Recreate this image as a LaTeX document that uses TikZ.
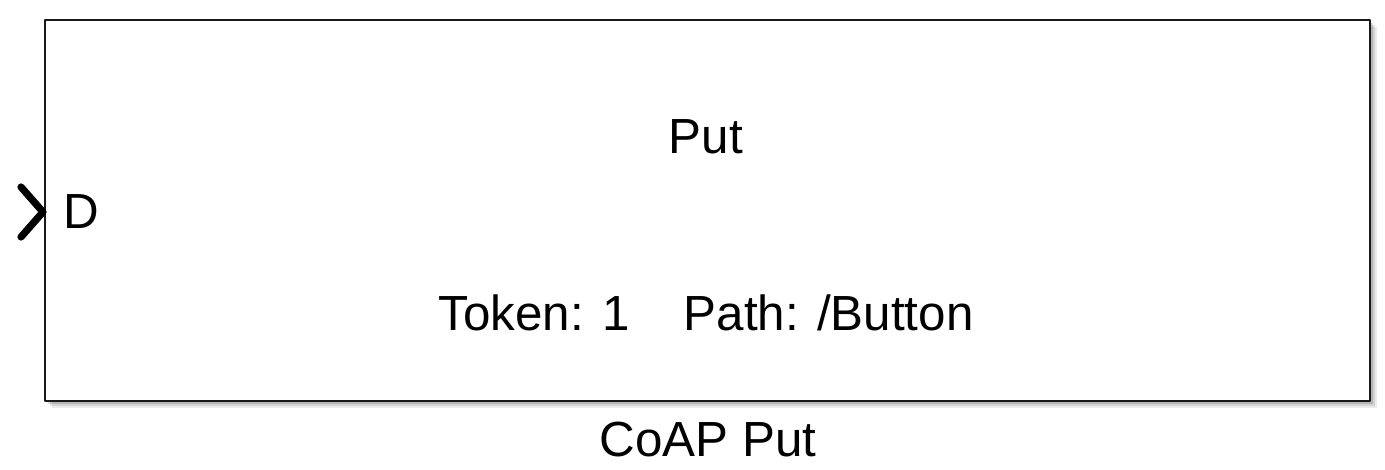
\documentclass[tikz,border=0pt]{standalone}
\usepackage{fontspec}
\setmainfont{Liberation Sans}
\usetikzlibrary{positioning}
\tikzset{
  every picture/.style={line cap=round, line join=round},
  blocktxt/.style={font=\fontsize{37}{44}\selectfont, text=black, inner sep=0pt},
  blockframe/.style={draw=black!90, line width=2.2pt, fill=white},
  portmark/.style={black, line width=5.4pt},
}
\begin{document}
\begin{tikzpicture}[x=0.75pt, y=-0.75pt]
\useasboundingbox (0,0) rectangle (1385,470);
% soft shadow
\foreach \o/\a in {7/0.08, 5/0.10, 3/0.14}
  \fill[black, opacity=\a] (45+\o,20+\o) rectangle (1370+\o,401+\o);
% block
\draw[blockframe] (45,20) rectangle (1370,401);
\coordinate (blk) at (707.5,210.5);
\node[blocktxt] (title) at (706,137) {Put};
\node[blocktxt] (params) at (706,313) {Token: 1\hspace{1.1em}Path: /Button};
\node[blocktxt] (name) at (708,440) {CoAP Put};
% input port
\coordinate (portin) at (43,212);
\draw[portmark] (21,187) -- (portin) -- (21,237);
\node[blocktxt, anchor=west] (portD) at (63,212) {D};
\end{tikzpicture}
\end{document}
